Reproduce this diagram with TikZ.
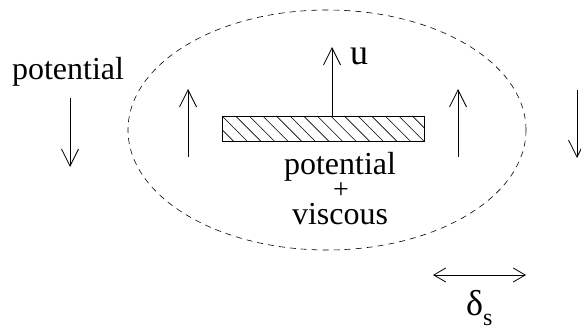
\documentclass[tikz,border=0pt]{standalone}
\usepackage{fontspec}
\setmainfont{Liberation Serif}
\usetikzlibrary{arrows.meta, positioning, calc}

\tikzset{
  flow/.style={line width=0.8pt, -{Straight Barb[length=17pt,width=17pt,line width=0.8pt]}},
  both/.style={line width=0.8pt, {Straight Barb[length=12pt,width=14pt,line width=0.8pt]}-{Straight Barb[length=12pt,width=14pt,line width=0.8pt]}},
  big/.style={font=\fontsize{32}{34}\selectfont, inner sep=0pt, anchor=base}
}

\begin{document}
\begin{tikzpicture}[x=1pt, y=-1pt]
  \useasboundingbox (0,0) rectangle (581,331);

  % Boundary layer region (dashed)
  \draw[dashed, dash pattern=on 6pt off 5pt, line width=0.6pt] (327,130) ellipse [x radius=199pt, y radius=120pt];

  % Plate with hatching
  \coordinate (P1) at (222,116);
  \coordinate (P2) at (424,141);
  \begin{scope}
    \clip (P1) rectangle (P2);
    \foreach \i in {-2,...,15}
      \draw[line width=0.6pt] ($(P1)+(\i*13.6,0)$) -- ++(25,25);
  \end{scope}
  \draw[line width=0.8pt] (P1) rectangle (P2);

  % Plate velocity
  \coordinate (stem) at (332,116);
  \coordinate (utip) at (332,47);
  \draw[flow] (stem) -- (utip);
  \node[big, font=\fontsize{36}{38}\selectfont] (u) at (359,65) {u};

  % Outer flow (potential)
  \node[big] (pot) at (68,80) {potential};
  \coordinate (L1) at (70,98);  \coordinate (L2) at (70,167);
  \coordinate (R1) at (577,90); \coordinate (R2) at (577,158);
  \draw[flow] (L1) -- (L2);
  \draw[flow] (R1) -- (R2);

  % Inner flow (potential + viscous)
  \coordinate (A1) at (188,157); \coordinate (A2) at (188,89);
  \coordinate (B1) at (458,157); \coordinate (B2) at (458,89);
  \draw[flow] (A1) -- (A2);
  \draw[flow] (B1) -- (B2);
  \node[big, text depth=6pt] (potin) at (340,175) {potential};
  \node[big, font=\fontsize{28}{30}\selectfont, text height=13pt, text depth=0pt] (plus) at (341,199) {+};
  \node[big, text height=21pt] (visc) at (340,225) {viscous};

  % Thickness
  \coordinate (D1) at (433,275);
  \coordinate (D2) at (526,275);
  \draw[both] (D1) -- (D2);
  \node[big, anchor=base west, font=\fontsize{36}{38}\selectfont] (delta) at (466,315)
    {δ\raisebox{-10pt}{\fontsize{24}{26}\selectfont s}};
\end{tikzpicture}
\end{document}
